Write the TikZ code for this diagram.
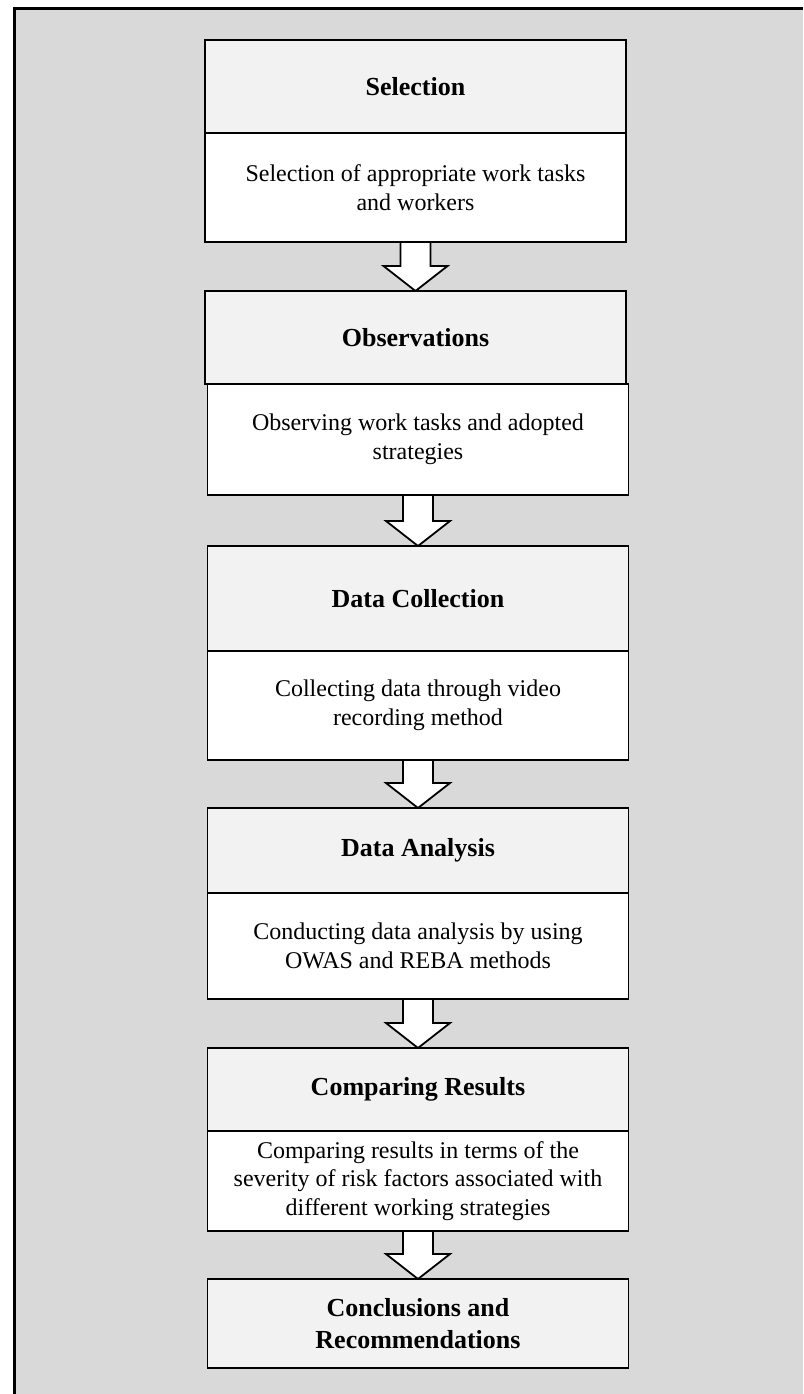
\documentclass[tikz,border=0pt]{standalone}
\usepackage{fontspec}
\setmainfont{Liberation Serif}
\usetikzlibrary{positioning}
\usetikzlibrary{backgrounds}

\definecolor{panelgray}{HTML}{D9D9D9}
\definecolor{headgray}{HTML}{F2F2F2}

\tikzset{
  stephead/.style={draw, line width=1.8pt, fill=headgray, minimum width=421pt,
    inner sep=0pt, outer sep=0pt, align=center, font=\fontsize{26}{32}\selectfont\bfseries},
  stepbody/.style={draw, line width=1.8pt, fill=white, minimum width=421pt,
    inner sep=0pt, outer sep=0pt, align=center, font=\fontsize{24}{28.5}\selectfont},
  hollow/.style={draw, line width=1.8pt, fill=white, line join=miter,
    to path={([xshift=-15pt]\tikztostart) -- ([xshift=15pt]\tikztostart)
      -- ([xshift=15pt,yshift=25pt]\tikztotarget) -- ([xshift=32pt,yshift=25pt]\tikztotarget)
      -- (\tikztotarget) -- ([xshift=-32pt,yshift=25pt]\tikztotarget)
      -- ([xshift=-15pt,yshift=25pt]\tikztotarget) -- cycle}}
}

\begin{document}
\begin{tikzpicture}[x=1pt,y=-1pt]
\useasboundingbox (0,0) rectangle (803,1394);

% panel
\begin{scope}[on background layer]
\fill[panelgray] (14.5,9) rectangle (803,1394);
\draw[line width=3pt] (14.5,1394) -- (14.5,9) -- (803,9);
\end{scope}

% steps
\node[stephead, minimum height=93pt, anchor=north] (sel-h) at (415.5,40) {Selection};
\node[stepbody, minimum height=109pt, below=0pt of sel-h] (sel-b) {Selection of appropriate work tasks\\and workers};

\node[stephead, minimum height=93pt, below=49pt of sel-b] (obs-h) {Observations};
\node[stepbody, minimum height=111pt, below=0pt of obs-h, xshift=2.5pt] (obs-b) {Observing work tasks and adopted\\strategies};

\node[stephead, minimum height=105pt, below=51pt of obs-b] (dc-h) {Data Collection};
\node[stepbody, minimum height=109pt, below=0pt of dc-h] (dc-b) {Collecting data through video\\recording method};

\node[stephead, minimum height=85pt, below=48pt of dc-b] (da-h) {Data Analysis};
\node[stepbody, minimum height=106pt, below=0pt of da-h] (da-b) {Conducting data analysis by using\\OWAS and REBA methods};

\node[stephead, minimum height=83pt, below=49pt of da-b] (cr-h) {Comparing Results};
\node[stepbody, minimum height=100pt, below=0pt of cr-h] (cr-b) {Comparing results in terms of the\\severity of risk factors associated with\\different working strategies};

\node[stephead, minimum height=89pt, below=48pt of cr-b] (cc) {Conclusions and\\Recommendations};

% block arrows
\begin{scope}[on background layer]
\draw[hollow] (sel-b.south) to (obs-h.north);
\draw[hollow] (obs-b.south) to (dc-h.north);
\draw[hollow] (dc-b.south) to (da-h.north);
\draw[hollow] (da-b.south) to (cr-h.north);
\draw[hollow] (cr-b.south) to (cc.north);
\end{scope}
\end{tikzpicture}
\end{document}
